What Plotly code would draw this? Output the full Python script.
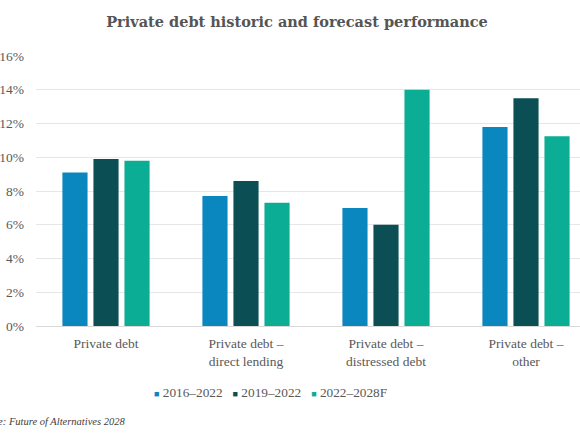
import plotly.graph_objects as go

# categories on the x axis (two-line labels)
categories = [
    "Private debt",
    "Private debt –<br>direct lending",
    "Private debt –<br>distressed debt",
    "Private debt –<br>other",
]

# annualised returns, in %
series_names = ["2016–2022", "2019–2022", "2022–2028F"]
returns_2016_2022 = [9.1, 7.7, 7.0, 11.8]
returns_2019_2022 = [9.9, 8.6, 6.0, 13.5]
returns_2022_2028f = [9.8, 7.3, 14.0, 11.25]

colors = ["#0A87BE", "#0B4F54", "#0BAD95"]

y_ticks = [0, 2, 4, 6, 8, 10, 12, 14, 16]

serif = "Liberation Serif, Georgia, serif"
grey_text = "#595959"

fig = go.Figure()
for name, vals, col in zip(series_names,
                           [returns_2016_2022, returns_2019_2022, returns_2022_2028f],
                           colors):
    fig.add_trace(go.Bar(x=categories, y=vals, name=name, marker_color=col,
                         marker_line_width=0))

# compact legend, built from the series names/colours
legend_text = "&nbsp;&nbsp;&nbsp;".join(
    f"<span style='color:{c}; font-size:9px'>■</span> {n}"
    for n, c in zip(series_names, colors)
)

fig.update_layout(
    width=580, height=435,
    margin=dict(l=36, r=0, t=56, b=109),
    paper_bgcolor="white", plot_bgcolor="white",
    barmode="group", bargap=0.335, bargroupgap=0.19,
    showlegend=False,
    font=dict(family=serif, color=grey_text),
    title=dict(
        text="<b>Private debt historic and forecast performance</b>",
        font=dict(family="DejaVu Serif, Georgia, serif", size=14.5, color="#555555"),
        x=297 / 580, xanchor="center", y=1 - 22 / 435, yanchor="middle",
    ),
    annotations=[
        dict(text=legend_text, xref="paper", yref="paper",
             x=(270 - 36) / 544, y=(326 - 392) / 270,
             xanchor="center", yanchor="middle", showarrow=False,
             font=dict(size=13.3, color=grey_text, family=serif)),
        dict(text="<i>Source: Future of Alternatives 2028</i>",
             xref="paper", yref="paper",
             x=(-28 - 36) / 544, y=(326 - 421) / 270,
             xanchor="left", yanchor="middle", showarrow=False,
             font=dict(size=10.5, color="#404040", family=serif)),
    ],
)

fig.update_xaxes(
    range=[-0.5, -0.5 + 544 / 140], automargin=False,
    showgrid=False, showline=True, linecolor="#d9d9d9", linewidth=1,
    ticks="", ticklabelstandoff=5, tickfont=dict(size=13.5, color=grey_text),
)
fig.update_yaxes(
    range=[0, 16], tickvals=y_ticks, ticktext=[f"{v}%" for v in y_ticks],
    automargin=False,
    showgrid=True, gridcolor="#e6e6e6", gridwidth=1, zeroline=False,
    ticks="", ticklabelstandoff=11, tickfont=dict(size=13.5, color=grey_text),
)

# drop the browser's default body margin so the figure sits at the page corner
fig.write_html("out.html", config={"displayModeBar": False},
               post_script="document.body.style.margin = '0';")
